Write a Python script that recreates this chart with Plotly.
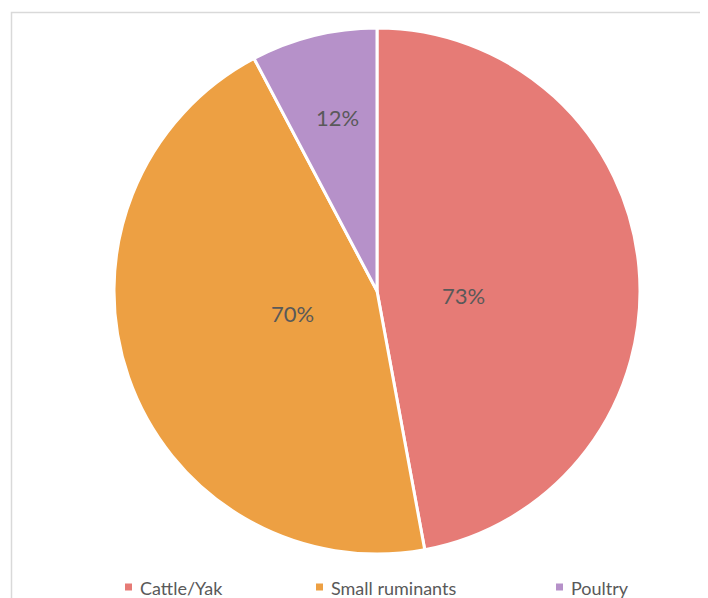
import math
import plotly.graph_objects as go

categories = ["Cattle/Yak", "Small ruminants", "Poultry"]
values = [73, 70, 12]
label_text = ["73%", "70%", "12%"]
colors = ["#E67B76", "#EDA043", "#B691C9"]
label_radius = [0.33, 0.34, 0.68]      # fraction of pie radius for each data label
label_nudge = [(0, 12), (0, -7), (4, 0)]  # pixel nudges (x right, y down)

W, H = 708, 598
OFF = 8  # page body margin offset
cx, cy, r = 377 - OFF, 291 - OFF, 263

fig = go.Figure()
fig.add_trace(go.Pie(
    labels=categories, values=values, text=label_text,
    textinfo="none",
    sort=False, direction="clockwise", rotation=0,
    marker=dict(colors=colors, line=dict(color="white", width=3)),
    domain=dict(x=[(cx - r) / W, (cx + r) / W], y=[(H - cy - r) / H, (H - cy + r) / H]),
    showlegend=False, hoverinfo="label+value",
))

shapes = [dict(type="rect", xref="paper", yref="paper",
               x0=(11.5 - OFF) / W, x1=1.1, y0=-0.1, y1=1 - (12.5 - OFF) / H,
               line=dict(color="#D9D9D9", width=1.5), fillcolor="rgba(0,0,0,0)", layer="below")]
annotations = []

total = sum(values)
cum = 0
for v, t, fr, (nx, ny) in zip(values, label_text, label_radius, label_nudge):
    mid = (cum + v / 2) / total * 2 * math.pi
    cum += v
    px = cx + fr * r * math.sin(mid) + nx
    py = cy - fr * r * math.cos(mid) + ny
    annotations.append(dict(text=t, xref="paper", yref="paper", x=px / W, y=1 - py / H,
                            xanchor="center", yanchor="middle", showarrow=False,
                            font=dict(family="Lato", size=22, color="#595959")))

leg_x = [125 - OFF, 316 - OFF, 556 - OFF]
leg_y = 587 - OFF
for name, col, lx in zip(categories, colors, leg_x):
    shapes.append(dict(type="rect", xref="paper", yref="paper",
                       x0=lx / W, x1=(lx + 7) / W, y0=1 - (leg_y + 3.5) / H, y1=1 - (leg_y - 3.5) / H,
                       fillcolor=col, line=dict(width=0)))
    annotations.append(dict(text=name, xref="paper", yref="paper", x=(lx + 13) / W, y=1 - (leg_y + 1) / H,
                            xanchor="left", yanchor="middle", showarrow=False,
                            font=dict(family="Lato", size=18, color="#595959")))

fig.update_layout(width=W, height=H, margin=dict(l=0, r=0, t=0, b=0),
                  paper_bgcolor="white", plot_bgcolor="white",
                  shapes=shapes, annotations=annotations)
fig.write_html("out.html")
